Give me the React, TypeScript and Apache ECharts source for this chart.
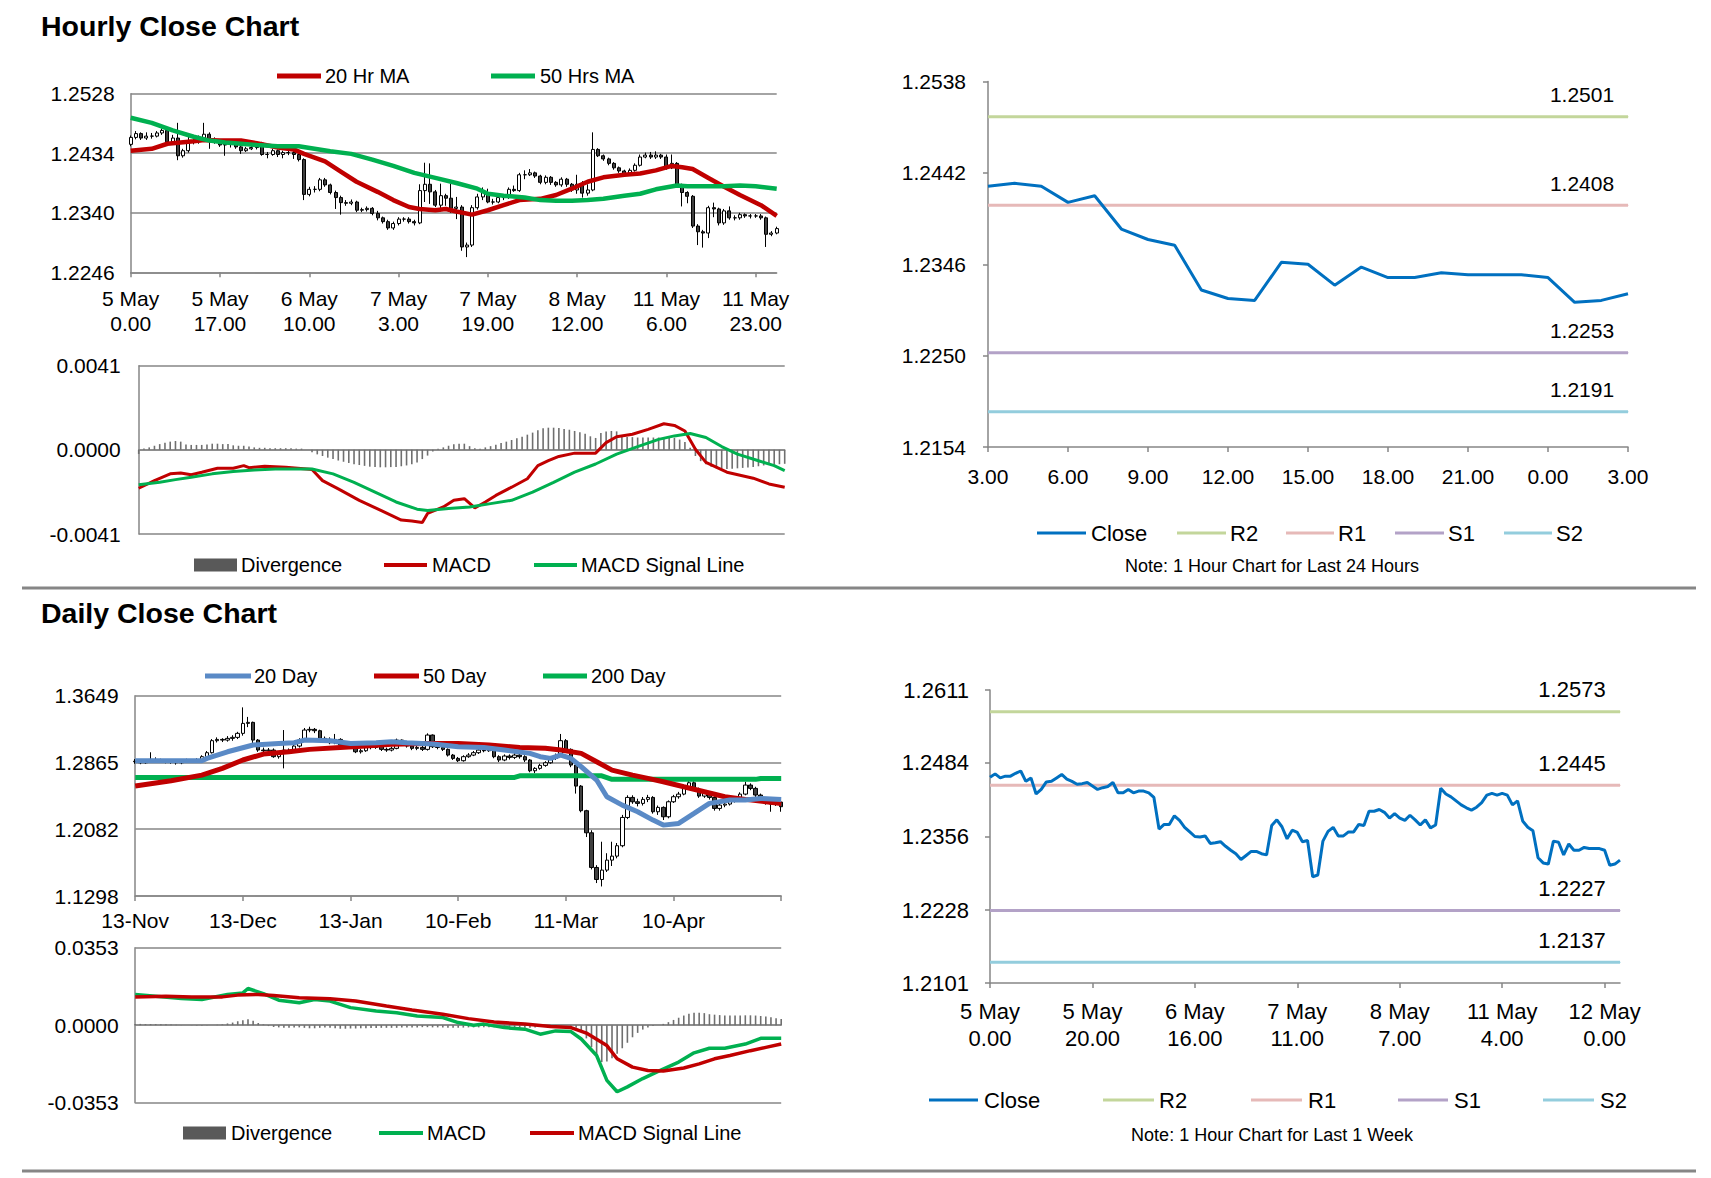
import React, { useEffect, useRef } from "react";
import * as echarts from "echarts";

// ---------- categories ----------
const HOUR_SEGMENTS: [string, number, number][] = [
  ["5 May", 0, 23], ["6 May", 0, 23], ["7 May", 0, 4], ["7 May", 4, 23],
  ["8 May", 0, 22], ["11 May", 0, 23], ["12 May", 0, 3],
];
const HOURLY_CATEGORIES: string[] = HOUR_SEGMENTS.flatMap(([d, a, b]) =>
  Array.from({ length: b - a + 1 }, (_, k) => `${d}\n${a + k}.00`)
);
const DAILY_TICK_LABELS = ["13-Nov", "13-Dec", "13-Jan", "10-Feb", "11-Mar", "10-Apr", "11-May"];
const DAILY_CATEGORIES: string[] = DAILY_TICK_LABELS.flatMap((lab, k) =>
  k < DAILY_TICK_LABELS.length - 1 ? Array.from({ length: 21 }, (_, j) => (j === 0 ? lab : `${lab} +${j}`)) : [lab]
);

// ---------- tick labels ----------
const H_PRICE_TICKS = [1.2246, 1.234, 1.2434, 1.2528];
const H_MACD_TICKS = [-0.0041, 0, 0.0041];
const TR_TICKS = [1.2154, 1.225, 1.2346, 1.2442, 1.2538];
const D_PRICE_TICKS = [1.1298, 1.2082, 1.2865, 1.3649];
const D_MACD_TICKS = [-0.0353, 0, 0.0353];
const BR_TICKS = [1.2101, 1.2228, 1.2356, 1.2484, 1.2611];

// ---------- hourly OHLC (pips) [open, close, low, high] ----------
const HOURLY_OHLC: number[][] = [
  [12448,12459,12445,12462],[12459,12465,12456,12469],[12465,12458,12455,12467],[12458,12461,12455,12467],
  [12461,12461,12457,12466],[12461,12466,12459,12469],[12466,12470,12463,12473],[12470,12452,12449,12474],
  [12452,12458,12448,12463],[12458,12430,12423,12482],[12430,12438,12427,12441],[12438,12451,12435,12461],
  [12451,12452,12448,12456],[12452,12458,12449,12462],[12458,12464,12454,12482],[12464,12456,12441,12467],
  [12456,12452,12449,12459],[12452,12447,12444,12455],[12447,12448,12430,12452],[12448,12450,12443,12453],
  [12450,12444,12441,12452],[12444,12438,12433,12446],[12438,12441,12436,12444],[12441,12443,12439,12446],
  [12443,12450,12440,12452],[12450,12432,12430,12452],[12432,12432,12426,12436],[12432,12438,12430,12441],
  [12438,12432,12428,12440],[12432,12435,12426,12438],[12435,12435,12431,12439],[12435,12432,12425,12438],
  [12432,12424,12421,12437],[12424,12369,12360,12426],[12369,12377,12366,12381],[12377,12377,12372,12382],
  [12377,12392,12374,12395],[12392,12384,12381,12395],[12384,12372,12369,12386],[12372,12364,12346,12375],
  [12364,12356,12337,12367],[12356,12355,12351,12360],[12355,12357,12352,12361],[12357,12344,12341,12359],
  [12344,12345,12341,12348],[12345,12347,12342,12350],[12347,12339,12336,12349],[12339,12332,12328,12343],
  [12332,12326,12323,12334],[12326,12316,12313,12329],[12316,12323,12313,12326],[12323,12330,12320,12333],
  [12330,12330,12326,12333],[12330,12326,12323,12333],[12326,12324,12320,12329],[12324,12375,12322,12385],
  [12375,12385,12357,12419],[12385,12373,12354,12418],[12373,12352,12349,12376],[12352,12367,12342,12386],
  [12367,12363,12351,12370],[12363,12347,12340,12386],[12347,12349,12330,12365],[12349,12286,12280,12352],
  [12286,12289,12270,12293],[12289,12348,12286,12352],[12348,12365,12345,12370],[12365,12372,12360,12380],
  [12372,12357,12355,12378],[12357,12357,12353,12362],[12357,12364,12355,12367],[12364,12364,12360,12368],
  [12364,12377,12362,12380],[12377,12375,12373,12383],[12375,12400,12373,12403],[12400,12400,12393,12407],
  [12400,12403,12398,12409],[12403,12398,12395,12405],[12398,12388,12385,12400],[12388,12396,12385,12399],
  [12396,12388,12384,12398],[12388,12384,12381,12390],[12384,12393,12381,12396],[12393,12385,12381,12395],
  [12385,12376,12373,12387],[12376,12385,12370,12400],[12385,12371,12364,12390],[12371,12376,12367,12385],
  [12376,12440,12374,12467],[12440,12430,12428,12442],[12430,12425,12422,12432],[12425,12418,12415,12427],
  [12418,12411,12408,12420],[12411,12406,12403,12413],[12406,12402,12399,12408],[12402,12407,12400,12410],
  [12407,12415,12405,12418],[12415,12428,12413,12432],[12428,12431,12426,12435],[12431,12428,12425,12436],
  [12428,12431,12425,12437],[12431,12428,12425,12433],[12428,12411,12408,12432],[12411,12418,12409,12432],
  [12418,12383,12380,12420],[12383,12372,12350,12386],[12372,12366,12355,12374],[12366,12319,12316,12368],
  [12319,12310,12289,12322],[12310,12308,12285,12313],[12308,12348,12300,12351],[12348,12346,12333,12356],
  [12346,12324,12320,12348],[12324,12343,12321,12346],[12343,12332,12329,12350],[12332,12332,12328,12336],
  [12332,12337,12329,12340],[12337,12335,12332,12339],[12335,12335,12331,12338],[12335,12335,12332,12338],
  [12335,12332,12329,12338],[12332,12306,12286,12334],[12306,12308,12303,12311],[12308,12315,12306,12318],
];

const HOURLY_MA20: [number, number][] = [
  [0,1.2438],[4,1.2441],[7,1.2449],[12,1.2453],[14,1.2455],[17,1.2454],[21,1.2454],[24,1.245],[28,1.2443],
  [31,1.244],[33,1.2433],[37,1.2421],[40,1.2405],[43,1.2389],[47,1.2373],[50,1.236],[53,1.2349],[55,1.2346],
  [58,1.2344],[60,1.2346],[62,1.2342],[65,1.2337],[68,1.2344],[71,1.2352],[74,1.236],[78,1.2362],[81,1.2368],
  [84,1.2378],[87,1.2389],[90,1.2396],[94,1.24],[97,1.2402],[100,1.2407],[103,1.2414],[105,1.2412],[107,1.2409],
  [110,1.2395],[113,1.2381],[116,1.2368],[120,1.2352],[123,1.2335],
];
const HOURLY_MA50: [number, number][] = [
  [0,1.249],[4,1.2482],[8,1.247],[12,1.246],[15,1.2454],[18,1.2451],[21,1.2449],[24,1.2447],[28,1.2445],
  [32,1.2445],[35,1.2441],[38,1.2437],[42,1.2433],[46,1.2424],[50,1.2414],[54,1.2403],[58,1.2395],[62,1.2387],
  [66,1.2378],[68,1.237],[71,1.2367],[75,1.2364],[78,1.236],[81,1.2359],[84,1.2359],[87,1.236],[90,1.2362],
  [94,1.2367],[97,1.237],[100,1.2377],[104,1.2383],[106,1.2382],[110,1.2382],[113,1.2382],[116,1.2383],
  [119,1.2382],[123,1.2378],
];

// hourly MACD divergence in 1e-5
const HOURLY_DIVERGENCE = [
  -20,6,12,20,28,35,40,43,40,26, 24,24,24,26,30,30,28,28,22,20, 20,16,12,10,10,8,8,8,8,8,
  6,6,0,-12,-22,-30,-38,-45,-52,-58, -64,-70,-74,-78,-82,-84,-85,-85,-84,-83, -80,-76,-70,-62,-45,-28,-8,5,12,20,
  27,30,30,18,8,5,12,18,25,33, 40,48,56,64,74,84,96,105,108,108, 106,102,98,92,86,78,66,58,82,90,
  92,90,70,62,62,60,60,60,60,60, 60,62,58,50,38,10,-30,-55,-70,-82, -90,-92,-93,-92,-90,-88,-86,-84,-80,-76,
  -74,-72,-70,-68,
];
const HOURLY_MACD: [number, number][] = [
  [0,-0.00187],[3,-0.0015],[6,-0.00117],[8,-0.00113],[10,-0.00121],[12,-0.00109],[15,-0.0009],[18,-0.0009],
  [20,-0.00077],[21,-0.00087],[24,-0.0008],[28,-0.00085],[32,-0.00093],[33,-0.00096],[35,-0.0015],[38,-0.0019],
  [42,-0.00246],[46,-0.00294],[50,-0.00342],[52,-0.00347],[54,-0.00354],[55,-0.0031],[58,-0.00278],[60,-0.00246],
  [62,-0.00238],[64,-0.00283],[66,-0.00254],[68,-0.00222],[71,-0.00182],[74,-0.00141],[76,-0.00077],[78,-0.00053],
  [80,-0.00032],[83,-0.00016],[87,-0.00016],[89,0.00035],[91,0.00064],[94,0.00076],[97,0.001],[100,0.00127],
  [102,0.00119],[104,0.00092],[106,0.00003],[108,-0.00061],[112,-0.00109],[117,-0.00138],[120,-0.00166],[123,-0.00182],
];
const HOURLY_SIGNAL: [number, number][] = [
  [0,-0.0017],[4,-0.00158],[7,-0.00145],[10,-0.00133],[14,-0.00117],[18,-0.00105],[22,-0.00098],[26,-0.00093],
  [33,-0.00093],[37,-0.00117],[41,-0.00158],[45,-0.00206],[49,-0.00254],[53,-0.00289],[55,-0.00296],[59,-0.00286],
  [63,-0.00278],[67,-0.00262],[71,-0.00246],[75,-0.00206],[79,-0.00158],[83,-0.00109],[87,-0.00069],[91,-0.00021],
  [95,0.00016],[99,0.00051],[102,0.00068],[105,0.0008],[108,0.0006],[111,0.00016],[114,-0.00021],[118,-0.00053],
  [121,-0.00077],[123,-0.00101],
];

// ---------- daily OHLC (pips) [open, close, low, high] ----------
const DAILY_OHLC: number[][] = [
  [12880,12874,12850,12905],[12874,12862,12845,12890],[12862,12886,12850,12900],[12886,12901,12870,12985],
  [12901,12894,12875,12925],[12894,12886,12860,12910],[12886,12878,12855,12900],[12878,12870,12850,12895],
  [12870,12862,12840,12890],[12862,12874,12845,12895],[12874,12886,12860,12910],[12886,12878,12860,12905],
  [12878,12894,12860,12915],[12894,12933,12880,12950],[12933,12980,12920,13000],[12980,13121,12970,13140],
  [13121,13136,13100,13160],[13136,13128,13105,13150],[13128,13148,13110,13175],[13148,13160,13120,13185],
  [13160,13207,13140,13225],[13207,13324,13180,13512],[13324,13336,13280,13400],[13336,13128,13070,13345],
  [13128,13011,12990,13140],[13011,13003,12970,13040],[13003,13011,12980,13035],[13011,12933,12920,13030],
  [12933,12972,12910,12990],[12972,13011,12796,13246],[13011,13003,12985,13030],[13003,13058,12990,13075],
  [13058,13128,13040,13150],[13128,13246,13110,13270],[13246,13254,13220,13285],[13254,13238,13210,13270],
  [13238,13148,13130,13250],[13148,13136,13110,13170],[13136,13097,13080,13160],[13097,13136,13080,13200],
  [13136,13070,13050,13150],[13070,13050,13030,13090],[13050,13058,13030,13080],[13058,12991,12975,13070],
  [12991,13003,12970,13025],[13003,13050,12990,13070],[13050,13042,13020,13065],[13042,13058,13025,13080],
  [13058,13019,13000,13070],[13019,13011,12990,13040],[13011,13031,12995,13050],[13031,13128,13020,13145],
  [13128,13081,13060,13135],[13081,13058,13040,13095],[13058,13031,13010,13070],[13031,13042,13010,13060],
  [13042,13019,13000,13060],[13019,13187,13005,13207],[13187,13050,13035,13195],[13050,13042,13020,13070],
  [13042,13019,13000,13060],[13019,12952,12935,13030],[12952,12913,12895,12965],[12913,12886,12870,12930],
  [12886,12933,12875,12950],[12933,12952,12920,12975],[12952,12980,12940,13000],[12980,13011,12965,13030],
  [13011,13003,12985,13030],[13003,13027,12990,13050],[13027,12933,12915,13040],[12933,12894,12870,12950],
  [12894,12941,12880,12960],[12941,12925,12900,12960],[12925,12952,12905,12975],[12952,12933,12910,12965],
  [12933,12894,12870,12950],[12894,12768,12750,12905],[12768,12796,12740,12810],[12796,12831,12780,12850],
  [12831,12862,12815,12880],[12862,12913,12850,12930],[12913,12941,12895,12970],[12941,13121,12930,13200],
  [13121,13019,13000,13140],[13019,12835,12810,13030],[12835,12588,12500,12850],[12588,12299,12280,12600],
  [12299,12040,11990,12310],[12040,11633,11610,12070],[11633,11492,11450,11660],[11492,11602,11410,11935],
  [11602,11719,11580,11800],[11719,11766,11650,11935],[11766,11888,11740,11920],[11888,12220,11870,12250],
  [12220,12455,12200,12480],[12455,12404,12380,12480],[12404,12385,12350,12440],[12385,12432,12360,12460],
  [12432,12455,12400,12485],[12455,12287,12265,12470],[12287,12338,12250,12360],[12338,12228,12190,12350],
  [12228,12404,12210,12420],[12404,12463,12390,12485],[12463,12494,12440,12520],[12494,12573,12480,12590],
  [12573,12627,12550,12650],[12627,12549,12530,12645],[12549,12471,12450,12570],[12471,12502,12450,12530],
  [12502,12455,12430,12520],[12455,12326,12300,12470],[12326,12365,12300,12385],[12365,12377,12340,12400],
  [12377,12416,12360,12440],[12416,12432,12395,12455],[12432,12494,12420,12515],[12494,12600,12480,12640],
  [12600,12561,12540,12620],[12561,12483,12460,12580],[12483,12416,12400,12500],[12416,12393,12370,12435],
  [12393,12377,12287,12410],[12377,12400,12355,12420],[12400,12346,12287,12415],
];

const DAILY_MA20: [number, number][] = [
  [0,1.2886],[7,1.2886],[13,1.2886],[14,1.2913],[18,1.2991],[23,1.307],[28,1.3089],[31,1.3097],[33,1.3128],
  [38,1.3121],[42,1.3089],[47,1.3097],[50,1.3109],[53,1.3097],[58,1.3081],[63,1.305],[68,1.3042],[72,1.3011],
  [77,1.2972],[79,1.2933],[81,1.2913],[83,1.2952],[85,1.2913],[87,1.2815],[90,1.2659],[92,1.2463],[95,1.2365],
  [98,1.2287],[101,1.2189],[103,1.213],[106,1.215],[109,1.2267],[112,1.2385],[116,1.2424],[119,1.2424],
  [122,1.2443],[126,1.2432],
];
const DAILY_MA50: [number, number][] = [
  [0,1.2588],[7,1.2651],[13,1.2717],[17,1.2796],[21,1.2894],[25,1.2964],[30,1.2991],[34,1.3019],[40,1.3042],
  [45,1.3058],[50,1.3078],[57,1.3089],[63,1.3089],[69,1.307],[75,1.3042],[80,1.3031],[83,1.3011],[87,1.2972],
  [90,1.2874],[93,1.2776],[97,1.2717],[100,1.2678],[103,1.2639],[107,1.258],[111,1.2522],[115,1.2463],
  [119,1.2432],[123,1.2404],[126,1.2385],
];
const DAILY_MA200: [number, number][] = [
  [0,1.269],[74,1.269],[75,1.2708],[91,1.2708],[93,1.2667],[121,1.2667],[122,1.2678],[126,1.2678],
];

// daily MACD divergence in 1e-4
const DAILY_DIVERGENCE = [
  6,6,5,5,5,4,4,3,2,1, 0,-1,-2,-2,-1,0,2, 4,8,12,18,22,27,20,10,4,
  -4,-8,-10,-12,-12,-10,-10,-12,-14,-14, -12,-10,-12,-14,-16,-16,-15,-15,-14,-14,
  -13,-13,-12,-12,-12,-12,-11,-11,-10,-10, -9,-9,-10,-10,-11,-12,-12,-12,-11,-10,
  -10,-10,-9,-9,-9,-10,-10,-11,-11,-12, -12,-12,-10,-6,-4,-2,-1,0,0,-2,
  -12,-30,-60,-100,-140,-168,-165,-150,-130,-105, -80,-55,-35,-20,-10,-4,0,6,14,24,
  34,44,52,57,57,55,50,48,46,44, 44,44,44,45,45,44,42,40,36,32,28,
];
const DAILY_MACD: [number, number][] = [
  [0,0.01397],[4,0.0132],[9,0.0122],[13,0.0117],[18,0.014],[21,0.0147],[22,0.0167],[25,0.0144],[28,0.0114],
  [32,0.0102],[35,0.0117],[38,0.011],[42,0.008],[47,0.0065],[51,0.0057],[55,0.0042],[60,0.0035],[63,0.0012],
  [66,0],[68,0.0005],[72,-0.0011],[76,-0.0018],[79,-0.0041],[82,-0.0026],[85,-0.0029],[87,-0.0063],[90,-0.0138],
  [92,-0.0251],[94,-0.0303],[96,-0.0281],[99,-0.0243],[102,-0.021],[106,-0.0168],[109,-0.0126],[112,-0.0105],
  [115,-0.0105],[119,-0.0086],[122,-0.006],[126,-0.006],
];
const DAILY_SIGNAL: [number, number][] = [
  [0,0.0128],[6,0.0132],[11,0.0128],[17,0.0129],[20,0.0137],[24,0.014],[27,0.0135],[32,0.0125],[38,0.012],
  [43,0.011],[49,0.0087],[54,0.0069],[60,0.005],[65,0.003],[70,0.0015],[76,0.0005],[81,-0.0006],[85,-0.0011],
  [88,-0.0036],[92,-0.0093],[94,-0.0153],[97,-0.0191],[100,-0.0206],[103,-0.0209],[107,-0.0195],[110,-0.0176],
  [113,-0.0153],[116,-0.0138],[120,-0.0116],[123,-0.0101],[126,-0.0086],
];

// ---------- pivot levels ----------
const LEVEL_NAMES = ["R2", "R1", "S1", "S2"];
const LEVELS_24H = [1.2501, 1.2408, 1.2253, 1.2191];
const LEVELS_WEEK = [1.2573, 1.2445, 1.2227, 1.2137];

// ---------- styling ----------
const FONT = "Liberation Sans";
const GRAY = "#868686";
const RED = "#c00000";
const GREEN = "#00b050";
const BLUE20 = "#5a8ac6";
const CLOSE_BLUE = "#0070c0";
const DIV_GRAY = "#6f6f6f";
const LEVEL_COLORS = ["#c3d69b", "#e6b9b8", "#b3a2c7", "#93cddd"];
const FS = 21;
const FS_WEEK = 22;

const sparse = (pairs: [number, number][], n: number) => {
  const a: (number | null)[] = new Array(n).fill(null);
  pairs.forEach(([i, v]) => (a[i] = v));
  return a;
};
const fmt4 = (v: number) => Number(v).toFixed(4);

function buildOption() {
  const nH = HOURLY_CATEGORIES.length;
  const nD = DAILY_CATEGORIES.length;
  const hCandles = HOURLY_OHLC.map((r) => r.map((p) => p / 10000));
  const hClose = HOURLY_OHLC.map((r) => r[1] / 10000);
  const trCats = HOURLY_CATEGORIES.slice(99).map((c) => c.split("\n")[1]);
  const trClose = hClose.slice(99);
  const dCandles = DAILY_OHLC.map((r) => r.map((p) => p / 10000));

  const lbl = { color: "#000", fontSize: FS, fontFamily: FONT };
  const lblW = { ...lbl, fontSize: FS_WEEK };
  const axLine = { show: true, lineStyle: { color: GRAY, width: 1.5 } };

  const priceY = (grid: number, ticks: number[], margin: number, split: boolean, tick: boolean, font = lbl) => ({
    type: "value", gridIndex: grid, min: ticks[0], max: ticks[ticks.length - 1], scale: true,
    axisLine: axLine,
    axisTick: { show: tick, customValues: ticks, length: 5, lineStyle: { color: GRAY, width: 1.5 } },
    axisLabel: { ...font, customValues: ticks, formatter: fmt4, margin },
    splitLine: { show: split, lineStyle: { color: GRAY, width: 1.5 } },
  });

  // each pivot level is its own line series from first to last category; value label above its right end
  const levelSeries = (xi: number, levels: number[], n: number, labelDx: number, dist: number, font: any) =>
    levels.map((v, i) => {
      const data: any[] = new Array(n).fill(null);
      data[0] = v;
      data[n - 1] = {
        value: v, symbol: "circle", symbolSize: 1,
        label: { show: true, position: "top", distance: dist, offset: [labelDx, 0], formatter: fmt4(v), ...font },
      };
      return {
        name: `${LEVEL_NAMES[i]}-${xi}`, type: "line", xAxisIndex: xi, yAxisIndex: xi, data, z: 1,
        connectNulls: true, showSymbol: true, showAllSymbol: true, symbol: "none", silent: true,
        lineStyle: { color: LEVEL_COLORS[i], width: 3 }, itemStyle: { color: LEVEL_COLORS[i] },
      };
    });

  const txt = (x: number, y: number, text: string, size = FS, extra: any = {}) => ({
    type: "text", x, y, silent: true,
    style: { text, fill: "#000", fontSize: size, fontFamily: FONT, verticalAlign: "middle", align: "left", ...extra },
  });
  const key = (x1: number, x2: number, y: number, color: string, h = 4) => ({
    type: "rect", silent: true, shape: { x: x1, y: y - h / 2, width: x2 - x1, height: h }, style: { fill: color },
  });
  const LF = 20;
  const RF = 22;

  const graphic = [
    txt(41, 26, "Hourly Close Chart", 28.5, { fontWeight: "bold" }),
    txt(41, 613, "Daily Close Chart", 28.5, { fontWeight: "bold" }),
    { type: "rect", silent: true, shape: { x: 22, y: 586.5, width: 1674, height: 3 }, style: { fill: GRAY } },
    { type: "rect", silent: true, shape: { x: 22, y: 1169.5, width: 1674, height: 3 }, style: { fill: GRAY } },
    // hourly legend
    key(277, 321, 76, RED, 5), txt(325, 76, "20 Hr MA", LF),
    key(491, 535, 76, GREEN, 5), txt(540, 76, "50 Hrs MA", LF),
    // hourly MACD legend
    key(194, 237, 565, "#595959", 13), txt(241, 565, "Divergence", LF),
    key(384, 427, 565, RED, 4), txt(432, 565, "MACD", LF),
    key(534, 577, 565, GREEN, 4), txt(581, 565, "MACD Signal Line", LF),
    // 24h legend
    key(1037, 1086, 533, CLOSE_BLUE, 3), txt(1091, 533, "Close", RF),
    key(1177, 1226, 533, LEVEL_COLORS[0], 3), txt(1230, 533, LEVEL_NAMES[0], RF),
    key(1286, 1334, 533, LEVEL_COLORS[1], 3), txt(1338, 533, LEVEL_NAMES[1], RF),
    key(1395, 1444, 533, LEVEL_COLORS[2], 3), txt(1448, 533, LEVEL_NAMES[2], RF),
    key(1504, 1552, 533, LEVEL_COLORS[3], 3), txt(1556, 533, LEVEL_NAMES[3], RF),
    txt(1272, 566, "Note: 1 Hour Chart for Last 24 Hours", 18, { align: "center" }),
    // daily legend
    key(205, 251, 676, BLUE20, 5), txt(254, 676, "20 Day", LF),
    key(374, 419, 676, RED, 5), txt(423, 676, "50 Day", LF),
    key(543, 587, 676, GREEN, 5), txt(591, 676, "200 Day", LF),
    // daily MACD legend
    key(183, 226, 1133, "#595959", 13), txt(231, 1133, "Divergence", LF),
    key(379, 423, 1133, GREEN, 4), txt(427, 1133, "MACD", LF),
    key(530, 574, 1133, RED, 4), txt(578, 1133, "MACD Signal Line", LF),
    // week legend
    key(929, 978, 1100, CLOSE_BLUE, 3), txt(984, 1100, "Close", RF),
    key(1103, 1154, 1100, LEVEL_COLORS[0], 3), txt(1159, 1100, LEVEL_NAMES[0], RF),
    key(1251, 1302, 1100, LEVEL_COLORS[1], 3), txt(1308, 1100, LEVEL_NAMES[1], RF),
    key(1398, 1448, 1100, LEVEL_COLORS[2], 3), txt(1454, 1100, LEVEL_NAMES[2], RF),
    key(1543, 1594, 1100, LEVEL_COLORS[3], 3), txt(1600, 1100, LEVEL_NAMES[3], RF),
    txt(1272, 1135, "Note: 1 Hour Chart for Last 1 Week", 18, { align: "center" }),
  ];

  const candleStyle = { color: "#ffffff", color0: "#3f3f3f", borderColor: "#000", borderColor0: "#000", borderWidth: 1 };
  const lineS = (name: string, xi: number, data: any[], color: string, width: number, extra: any = {}) => ({
    name, type: "line", xAxisIndex: xi, yAxisIndex: xi, data, connectNulls: true,
    showSymbol: false, symbol: "none", silent: true,
    lineStyle: { color, width }, itemStyle: { color }, ...extra,
  });

  return {
    animation: false,
    backgroundColor: "#ffffff",
    textStyle: { fontFamily: FONT },
    graphic,
    grid: [
      { left: 130.7, top: 93.7, width: 646, height: 178.6 },
      { left: 138.7, top: 365.7, width: 646, height: 168.3 },
      { left: 988, top: 81.5, width: 640, height: 365.5 },
      { left: 135.2, top: 695.7, width: 646, height: 200.3 },
      { left: 135.2, top: 947.7, width: 646, height: 155 },
      { left: 990, top: 690, width: 630, height: 293 },
    ],
    xAxis: [
      {
        type: "category", gridIndex: 0, data: HOURLY_CATEGORIES, boundaryGap: false,
        axisLine: axLine,
        axisTick: { show: true, interval: 16, length: 5, lineStyle: { color: GRAY, width: 1.5 } },
        axisLabel: { ...lbl, interval: 16, lineHeight: 25, margin: 14 },
        splitLine: { show: false },
      },
      {
        type: "category", gridIndex: 1, data: HOURLY_CATEGORIES, boundaryGap: false,
        axisLine: { show: true, onZero: true, lineStyle: { color: GRAY, width: 1.5 } },
        axisTick: { show: false }, axisLabel: { show: false }, splitLine: { show: false },
      },
      {
        type: "category", gridIndex: 2, data: trCats, boundaryGap: false,
        axisLine: axLine,
        axisTick: { show: true, interval: 2, length: 5, lineStyle: { color: GRAY, width: 1.5 } },
        axisLabel: { ...lbl, interval: 2, margin: 19 },
        splitLine: { show: false },
      },
      {
        type: "category", gridIndex: 3, data: DAILY_CATEGORIES, boundaryGap: false,
        axisLine: axLine,
        axisTick: { show: true, interval: 20, length: 5, lineStyle: { color: GRAY, width: 1.5 } },
        axisLabel: {
          ...lbl, interval: 20, margin: 14,
          formatter: (v: string, i: number) => (i === DAILY_CATEGORIES.length - 1 ? "" : v),
        },
        splitLine: { show: false },
      },
      {
        type: "category", gridIndex: 4, data: DAILY_CATEGORIES, boundaryGap: false,
        axisLine: { show: true, onZero: true, lineStyle: { color: GRAY, width: 1.5 } },
        axisTick: { show: false }, axisLabel: { show: false }, splitLine: { show: false },
      },
      {
        type: "category", gridIndex: 5, data: HOURLY_CATEGORIES, boundaryGap: false,
        axisLine: axLine,
        axisTick: { show: true, interval: 19, length: 5, lineStyle: { color: GRAY, width: 1.5 } },
        axisLabel: { ...lblW, interval: 19, lineHeight: 27, margin: 15 },
        splitLine: { show: false },
      },
    ],
    yAxis: [
      priceY(0, H_PRICE_TICKS, 16, true, false),
      priceY(1, H_MACD_TICKS, 18, true, false),
      priceY(2, TR_TICKS, 22, false, true),
      priceY(3, D_PRICE_TICKS, 16.5, true, false),
      priceY(4, D_MACD_TICKS, 16.5, true, false),
      priceY(5, BR_TICKS, 21, false, true, lblW),
    ],
    series: [
      { name: "Hourly", type: "candlestick", xAxisIndex: 0, yAxisIndex: 0, data: hCandles, barWidth: 3.5, itemStyle: candleStyle, silent: true },
      lineS("20 Hr MA", 0, sparse(HOURLY_MA20, nH), RED, 4.5),
      lineS("50 Hrs MA", 0, sparse(HOURLY_MA50, nH), GREEN, 4.5),
      {
        name: "Divergence H", type: "bar", xAxisIndex: 1, yAxisIndex: 1, barWidth: 1.6, silent: true,
        data: HOURLY_DIVERGENCE.map((v) => v / 100000), itemStyle: { color: DIV_GRAY },
      },
      lineS("MACD H", 1, sparse(HOURLY_MACD, nH), RED, 3),
      lineS("Signal H", 1, sparse(HOURLY_SIGNAL, nH), GREEN, 3),
      ...levelSeries(2, LEVELS_24H, trCats.length, -46, 11, lbl),
      lineS("Close 24h", 2, trClose, CLOSE_BLUE, 3, { z: 3 }),
      { name: "Daily", type: "candlestick", xAxisIndex: 3, yAxisIndex: 3, data: dCandles, barWidth: 4, itemStyle: candleStyle, silent: true },
      lineS("200 Day", 3, sparse(DAILY_MA200, nD), GREEN, 5),
      lineS("50 Day", 3, sparse(DAILY_MA50, nD), RED, 5),
      lineS("20 Day", 3, sparse(DAILY_MA20, nD), BLUE20, 5),
      {
        name: "Divergence D", type: "bar", xAxisIndex: 4, yAxisIndex: 4, barWidth: 1.6, silent: true,
        data: DAILY_DIVERGENCE.map((v) => v / 10000), itemStyle: { color: DIV_GRAY },
      },
      lineS("MACD D", 4, sparse(DAILY_MACD, nD), GREEN, 3.5),
      lineS("Signal D", 4, sparse(DAILY_SIGNAL, nD), RED, 3.5),
      ...levelSeries(5, LEVELS_WEEK, nH, -48, 10.5, lblW),
      lineS("Close week", 5, hClose, CLOSE_BLUE, 3, { z: 3 }),
    ],
  };
}

export default function App() {
  const ref = useRef<HTMLDivElement>(null);
  useEffect(() => {
    if (!ref.current) return;
    const chart = echarts.init(ref.current, undefined, { renderer: "svg" });
    chart.setOption(buildOption() as any);
    return () => chart.dispose();
  }, []);
  return (
    <div
      ref={ref}
      style={{ position: "fixed", left: 0, top: 0, width: 1711, height: 1178, background: "#fff" }}
    />
  );
}
